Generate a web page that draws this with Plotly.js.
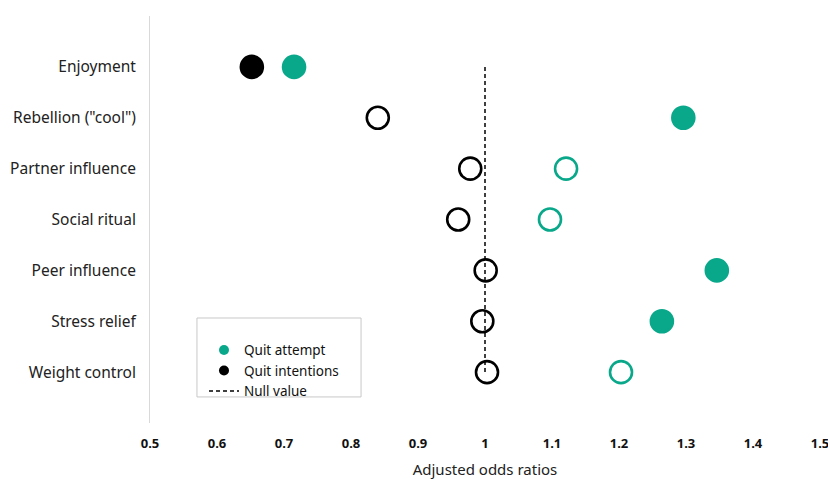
<!DOCTYPE html>
<html>
<head>
<meta charset="utf-8">
<script src="https://cdn.plot.ly/plotly-3.0.1.min.js"></script>
<style>html,body{margin:0;padding:0;background:#fff;}#chart{width:828px;height:479px;}</style>
</head>
<body>
<div id="chart"></div>
<script>
const categories = ["Enjoyment", "Rebellion (\"cool\")", "Partner influence", "Social ritual", "Peer influence", "Stress relief", "Weight control"];
const quitAttempt = [0.715, 1.296, 1.121, 1.097, 1.346, 1.264, 1.203];
const quitAttemptSignificant = [true, true, false, false, true, true, false];
const quitIntentions = [0.652, 0.840, 0.978, 0.960, 1.001, 0.996, 1.003];
const quitIntentionsSignificant = [true, false, false, false, false, false, false];
const nullValue = 1;
const xTicks = [0.5, 0.6, 0.7, 0.8, 0.9, 1, 1.1, 1.2, 1.3, 1.4, 1.5];

const teal = '#0aa88b';
const black = '#000000';
const font = 'Noto Sans, Open Sans, sans-serif';

function markerFor(color, sig) {
  return {
    size: 22,
    color: color,
    symbol: sig.map(s => s ? 'circle' : 'circle-open'),
    line: {width: 2.6, color: color}
  };
}

const traces = [
  {
    x: [nullValue, nullValue], y: [categories[0], categories[categories.length - 1]],
    mode: 'lines', line: {color: '#000', width: 1.5, dash: '4px,3px'},
    showlegend: false, hoverinfo: 'skip'
  },
  {
    x: quitIntentions, y: categories, mode: 'markers', type: 'scatter',
    marker: markerFor(black, quitIntentionsSignificant), showlegend: false, name: 'Quit intentions'
  },
  {
    x: quitAttempt, y: categories, mode: 'markers', type: 'scatter',
    marker: markerFor(teal, quitAttemptSignificant), showlegend: false, name: 'Quit attempt'
  },
  {x: [null], y: [null], mode: 'markers', marker: {size: 10, color: teal}, name: 'Quit attempt'},
  {x: [null], y: [null], mode: 'markers', marker: {size: 10, color: black}, name: 'Quit intentions'},
  {x: [null], y: [null], mode: 'lines', line: {color: '#000', width: 1.5, dash: '4px,3px'}, name: 'Null value'}
];

const layout = {
  width: 828, height: 479,
  margin: {l: 150, r: 8, t: 16, b: 56},
  paper_bgcolor: '#fff', plot_bgcolor: '#fff',
  font: {family: font, color: '#222', size: 14},
  showlegend: true,
  legend: {
    x: 0.0806, y: 0.217, xanchor: 'left', yanchor: 'top',
    borderwidth: 0, bgcolor: 'rgba(0,0,0,0)',
    font: {family: font, size: 13.5, color: '#111'},
    itemwidth: 30, tracegroupgap: 0
  },
  shapes: [{
    type: 'rect', xref: 'paper', yref: 'paper',
    x0: 0.0701, x1: 0.315, y0: 0.064, y1: 0.258,
    line: {color: '#c8c8c8', width: 1}, fillcolor: 'rgba(0,0,0,0)', layer: 'below'
  }],
  xaxis: {
    range: [0.5, 1.5], tickvals: xTicks, ticktext: xTicks.map(String),
    showgrid: false, zeroline: false, showline: false,
    ticks: 'outside', ticklen: 8, tickcolor: 'rgba(0,0,0,0)',
    ticklabeloverflow: 'allow',
    tickfont: {family: font, size: 13, color: '#111', weight: 'bold'},
    title: {text: 'Adjusted odds ratios', font: {family: font, size: 15, color: '#222'}, standoff: 14},
    fixedrange: true
  },
  yaxis: {
    type: 'category', categoryorder: 'array', categoryarray: categories,
    range: [categories.length, -1],
    showgrid: false, zeroline: false, showline: true, linecolor: '#d9d9d9', linewidth: 1,
    ticks: 'outside', ticklen: 10, tickcolor: 'rgba(0,0,0,0)',
    tickfont: {family: font, size: 15.5, color: '#222'},
    fixedrange: true
  }
};

Plotly.newPlot('chart', traces, layout, {displayModeBar: false, staticPlot: true});
</script>
</body>
</html>
